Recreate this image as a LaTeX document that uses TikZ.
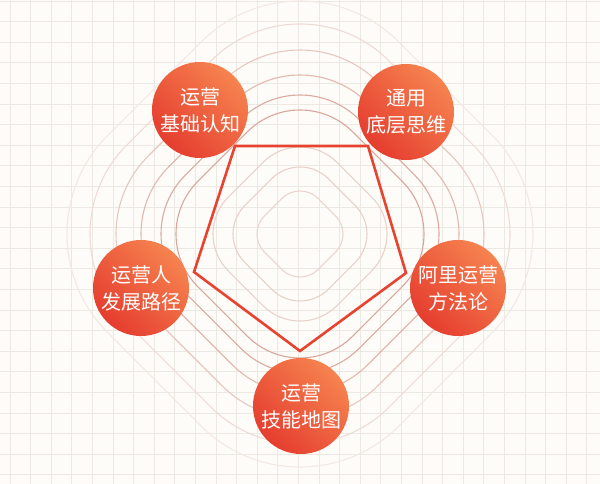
\documentclass[tikz,border=0pt]{standalone}
\usepackage{fontspec}
\newfontfamily\cjk{Noto Sans CJK SC}
\usepackage{tikz}
\definecolor{paper}{HTML}{FDFCF8}
\definecolor{gridline}{HTML}{ECE9E3}
\definecolor{penta}{HTML}{E8432F}
\definecolor{ballhi}{HTML}{F6834F}
\definecolor{balllo}{HTML}{E53D2F}

\begin{document}
\begin{tikzpicture}[x=1pt, y=-1pt,
      every node/.style={align=center, text=white, font=\cjk\fontsize{20}{27}\selectfont},
      ball/.style={shape=circle, minimum size=96pt, inner sep=0pt,
        top color=ballhi, bottom color=balllo, shading angle=-45},
      ring/.style={line width=1.1pt, rounded corners=#1}]
    \fill[paper] (0,0) rectangle (600,484);
    \useasboundingbox (0,0) rectangle (600,484);
    \foreach \i in {0,...,29}
      \draw[gridline, line width=0.8pt] (10+20.6*\i,0) -- (10+20.6*\i,484);
    \foreach \i in {0,...,23}
      \draw[gridline, line width=0.8pt] (0,1+20.6*\i) -- (600,1+20.6*\i);
    \foreach \h/\c in {43/EBD5CE, 67/E9D0C8, 87/EAD1CA, 124/D9A69D, 139/DCAAA1,
                       159/E2B8B0, 184/E8C7C0, 210/EFDAD5, 233/F4E8E4} {
      \definecolor{ringcol}{HTML}{\c}
      \pgfmathsetmacro\rr{0.6*\h}
      \pgfmathsetmacro\dd{\h+0.4142*\rr}
      \draw[ringcol, ring=\rr pt] (300,234-\dd) -- (300+\dd,234) -- (300,234+\dd)
        -- (300-\dd,234) -- cycle;
    }
    \coordinate (p1) at (235,146);
    \coordinate (p2) at (368,146);
    \coordinate (p3) at (406,273);
    \coordinate (p4) at (300,351);
    \coordinate (p5) at (194,272);
    \draw[penta, line width=2.6pt, line join=miter] (p1) -- (p2) -- (p3) -- (p4) -- (p5) -- cycle;
    \node[ball] (jichu) at (200,110) {运营\\基础认知};
    \node[ball] (siwei) at (406,112) {通用\\底层思维};
    \node[ball] (lujing) at (141,288) {运营人\\发展路径};
    \node[ball] (fangfa) at (458,288) {阿里运营\\方法论};
    \node[ball] (jineng) at (301,406) {运营\\技能地图};
\end{tikzpicture}
\end{document}
